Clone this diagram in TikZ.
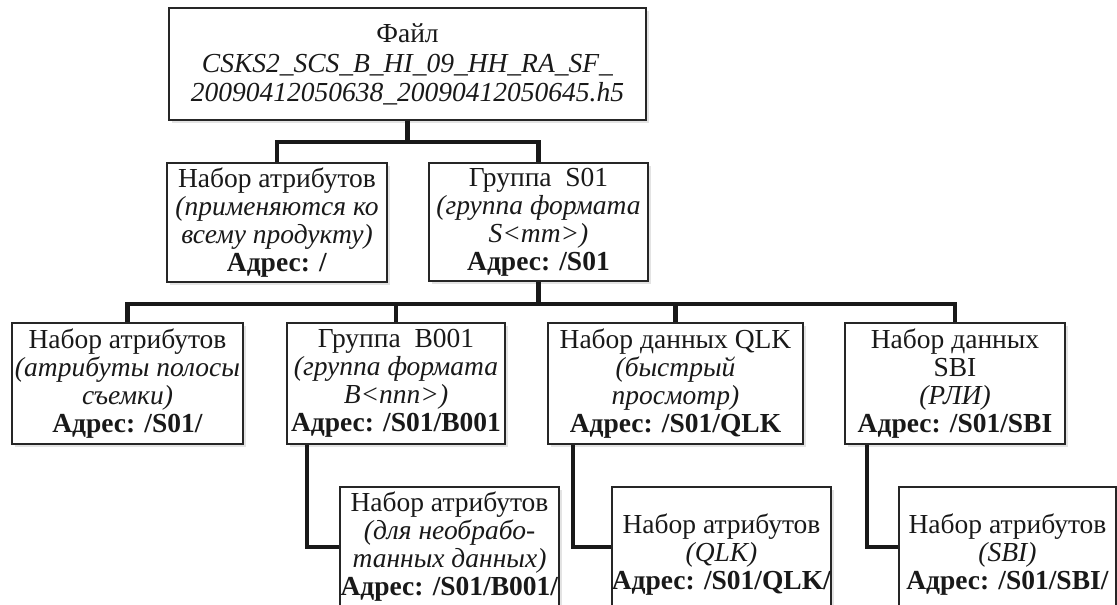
\documentclass[tikz,border=0pt]{standalone}
\usepackage{fontspec}
\setmainfont{Liberation Serif}
\usetikzlibrary{shadows}
\tikzset{
  box/.style={draw=black!85, line width=1.8pt, fill=white, align=center, inner sep=0pt,
    text=black!90, font=\fontsize{27.5}{28}\selectfont,
    drop shadow={shadow xshift=2.5pt, shadow yshift=-2.5pt, opacity=0.22}},
  link/.style={line width=4.4pt, draw=black!90},
}
\begin{document}
\begin{tikzpicture}[x=1pt,y=-1pt]
\useasboundingbox (0,0) rectangle (1117,605);
\clip (0,0) rectangle (1117,605);
\fill[white] (0,0) rectangle (1117,605);

\node[box, minimum width=477pt, minimum height=112pt] (file) at (407.5,64)
  {Файл\\[2pt] \textit{CSKS2\_SCS\_B\_HI\_09\_HH\_RA\_SF\_}\\[1pt] \textit{20090412050638\_20090412050645.h5}};

\node[box, minimum width=220pt, minimum height=119pt] (attr0) at (277,222.5)
  {Набор атрибутов\\ \textit{(применяются ко}\\ \textit{всему продукту)}\\ \textbf{Адрес: /}};
\node[box, minimum width=219pt, minimum height=118pt] (s01) at (538.5,222)
  {Группа\ \ S01\\ \textit{(группа формата}\\ \textit{S<mm>)}\\ \textbf{Адрес: /S01}};

\node[box, minimum width=231pt, minimum height=121pt] (r1) at (127.5,383.5)
  {Набор атрибутов\\ \textit{(атрибуты полосы}\\ \textit{съемки)}\\ \textbf{Адрес: /S01/}};
\node[box, minimum width=218pt, minimum height=121pt] (r2) at (396,383.5)
  {Группа\ \ B001\\ \textit{(группа формата}\\ \textit{B<nnn>)}\\ \textbf{Адрес: /S01/B001}};
\node[box, minimum width=255pt, minimum height=121pt] (r3) at (675.5,383.5)
  {Набор данных QLK\\ \textit{(быстрый}\\ \textit{просмотр)}\\ \textbf{Адрес: /S01/QLK}};
\node[box, minimum width=220pt, minimum height=121pt] (r4) at (955,383.5)
  {Набор данных\\ SBI\\ \textit{(РЛИ)}\\ \textbf{Адрес: /S01/SBI}};

\node[box, minimum width=219pt, minimum height=120pt] (b1) at (449.5,547)
  {Набор атрибутов\\ \textit{(для необрабо-}\\ \textit{танных данных)}\\ \textbf{Адрес: /S01/B001/}};
\node[box, minimum width=219pt, minimum height=136pt] (b2) at (721.5,555)
  {Набор атрибутов\\ \textit{(QLK)}\\ \textbf{Адрес: /S01/QLK/}};
\node[box, minimum width=217pt, minimum height=136pt] (b3) at (1007.5,555)
  {Набор атрибутов\\ \textit{(SBI)}\\ \textbf{Адрес: /S01/SBI/}};

% connectors
\coordinate (j1) at ([yshift=-21pt]file.south);
\draw[link] (file.south) -- (j1);
\draw[link] (attr0.north) |- (j1) -| (s01.north);

\coordinate (j2) at ([yshift=-22pt]s01.south);
\draw[link] (s01.south) -- (j2);
\draw[link] (r1.north) |- (j2) -| (r4.north);
\draw[link] (r2.north) -- (r2.north |- j2);
\draw[link] (r3.north) -- (r3.north |- j2);

\draw[link] ([xshift=21pt]r2.south west) |- (b1.west);
\draw[link] ([xshift=26pt]r3.south west) |- ([yshift=8pt]b2.west);
\draw[link] ([xshift=23pt]r4.south west) |- ([yshift=8pt]b3.west);
\end{tikzpicture}
\end{document}
